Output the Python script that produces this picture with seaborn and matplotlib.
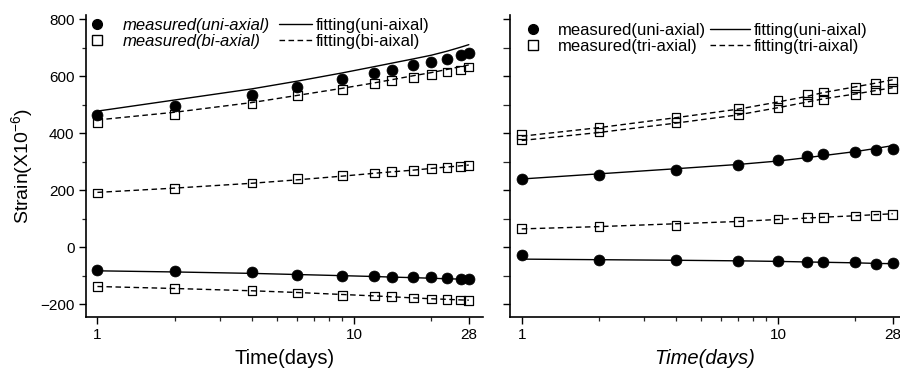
import numpy as np
import pandas as pd
import matplotlib
matplotlib.use("Agg")
import matplotlib.pyplot as plt
import seaborn as sns
from matplotlib.lines import Line2D
from matplotlib.ticker import FixedLocator, FixedFormatter, MultipleLocator, NullFormatter

# ---- data ----
# left panel (uni-axial vs bi-axial)
days_left = [1, 2, 4, 6, 9, 12, 14, 17, 20, 23, 26, 28]
uni_top_meas = [465, 497, 536, 563, 591, 612, 623, 641, 649, 662, 674, 682]
uni_top_fit = [478, 517, 556, 583, 612, 634, 646, 661, 674, 688, 702, 711]
bi_top_meas = [437, 467, 503, 532, 555, 575, 585, 595, 605, 615, 622, 633]
bi_top_fit = [447, 474, 508, 533, 558, 577, 588, 602, 613, 624, 634, 640]
bi_mid_meas = [191, 206, 226, 241, 252, 261, 265, 270, 277, 281, 284, 287]
bi_mid_fit = [193, 208, 225, 237, 250, 260, 265, 271, 277, 282, 286, 289]
uni_low_meas = [-80, -82, -87, -95, -100, -101, -102, -104, -105, -107, -110, -111]
uni_low_fit = [-82, -86, -91, -95, -99, -102, -104, -106, -108, -110, -111, -112]
bi_low_meas = [-137, -143, -152, -160, -168, -170, -173, -177, -181, -183, -184, -185]
bi_low_fit = [-137, -144, -152, -158, -165, -170, -173, -177, -180, -182, -184, -185]

# right panel (uni-axial vs tri-axial)
days_right = [1, 2, 4, 7, 10, 13, 15, 20, 24, 28]
tri_a_meas = [395, 421, 455, 487, 515, 537, 545, 562, 575, 582]
tri_a_fit = [390, 420, 455, 485, 510, 530, 543, 563, 576, 588]
tri_b_meas = [378, 405, 437, 466, 490, 512, 520, 537, 552, 557]
tri_b_fit = [375, 403, 436, 465, 490, 510, 521, 538, 550, 560]
uni_r_meas = [240, 255, 272, 290, 307, 320, 326, 335, 340, 345]
uni_r_fit = [240, 258, 276, 291, 303, 315, 322, 336, 347, 357]
tri_c_meas = [66, 74, 78, 90, 100, 104, 105, 110, 113, 116]
tri_c_fit = [65, 73, 83, 91, 98, 103, 106, 111, 115, 118]
uni_r2_meas = [-26, -43, -43, -46, -47, -51, -51, -51, -57, -55]
uni_r2_fit = [-41, -43, -45, -47, -49, -51, -52, -54, -56, -57]

xticks = [1, 10, 28]
yticks = [-200, 0, 200, 400, 600, 800]

sns.set_style("ticks")
plt.rcParams["font.family"] = ["Liberation Sans", "DejaVu Sans"]
plt.rcParams["mathtext.default"] = "regular"
plt.rcParams["text.color"] = "black"
plt.rcParams["axes.labelcolor"] = "black"

W, H = 900, 376
fig = plt.figure(figsize=(9, 3.76), dpi=100)
ax1 = fig.add_axes([85.7 / W, 58.7 / H, (483 - 85.7) / W, (317.3 - 15) / H])
ax2 = fig.add_axes([510 / W, 58.7 / H, 390 / W, (317.3 - 15) / H])

DASH = (4, 2.5)


def fit_line(ax, x, y, dashed):
    sns.lineplot(x=x, y=y, ax=ax, color="black", linewidth=1.0, legend=False)
    if dashed:
        ax.lines[-1].set_dashes(DASH)


def circles(ax, x, y):
    sns.scatterplot(x=x, y=y, ax=ax, marker="o", s=62, color="black",
                    edgecolor="black", linewidth=0.5, legend=False, zorder=3)


def squares(ax, x, y):
    sns.scatterplot(x=x, y=y, ax=ax, marker="s", s=40, facecolors="none",
                    edgecolor="black", linewidth=0.9, legend=False, zorder=3)


# left panel
fit_line(ax1, days_left, uni_top_fit, False)
fit_line(ax1, days_left, bi_top_fit, True)
fit_line(ax1, days_left, bi_mid_fit, True)
fit_line(ax1, days_left, uni_low_fit, False)
fit_line(ax1, days_left, bi_low_fit, True)
circles(ax1, days_left, uni_top_meas)
squares(ax1, days_left, bi_top_meas)
squares(ax1, days_left, bi_mid_meas)
circles(ax1, days_left, uni_low_meas)
squares(ax1, days_left, bi_low_meas)

# right panel
fit_line(ax2, days_right, tri_a_fit, True)
fit_line(ax2, days_right, tri_b_fit, True)
fit_line(ax2, days_right, uni_r_fit, False)
fit_line(ax2, days_right, tri_c_fit, True)
fit_line(ax2, days_right, uni_r2_fit, False)
squares(ax2, days_right, tri_a_meas)
squares(ax2, days_right, tri_b_meas)
circles(ax2, days_right, uni_r_meas)
squares(ax2, days_right, tri_c_meas)
circles(ax2, days_right, uni_r2_meas)

for ax, xmax in ((ax1, 31.8), (ax2, 29.9)):
    ax.set_xscale("log")
    ax.set_xlim(0.9, xmax)
    ax.set_ylim(-245, 815)
    ax.xaxis.set_major_locator(FixedLocator(xticks))
    ax.xaxis.set_major_formatter(FixedFormatter([str(t) for t in xticks]))
    ax.xaxis.set_minor_locator(FixedLocator([2, 3, 4, 5, 6, 7, 8, 9, 20]))
    ax.xaxis.set_minor_formatter(NullFormatter())
    ax.yaxis.set_major_locator(FixedLocator(yticks))
    ax.yaxis.set_minor_locator(MultipleLocator(100))
    ax.tick_params(which="major", direction="out", length=5, width=1.0,
                   labelsize=11, pad=3, colors="black")
    ax.tick_params(which="minor", direction="out", length=3, width=0.9)
    for s in ("left", "bottom"):
        ax.spines[s].set_linewidth(1.2)
        ax.spines[s].set_color("black")
    ax.set_xlabel("")
    ax.set_ylabel("")

sns.despine(fig=fig)
ax2.tick_params(axis="y", which="both", labelleft=False, length=5)

ax1.set_ylabel("Strain(X10$^{-6}$)", fontsize=14, labelpad=4)
ax1.set_xlabel("Time(days)", fontsize=14.5, labelpad=5)
ax2.set_xlabel("Time(days)", fontsize=14.5, labelpad=5, style="italic")

# legends
FS = 12
em = FS * 100 / 72.0


def legends(ax, labels, x_meas, x_fit, y_top, len_fit, italic):
    h_meas = [Line2D([], [], marker="o", ls="none", color="black", markersize=7),
              Line2D([], [], marker="s", ls="none", markerfacecolor="none",
                     markeredgecolor="black", markersize=6.5)]
    h_fit = [Line2D([], [], color="black", lw=1.0),
             Line2D([], [], color="black", lw=1.0, dashes=DASH)]
    leg1 = ax.legend(h_meas, labels[:2], loc="upper left", frameon=False,
                     bbox_to_anchor=(x_meas / W, 1 - y_top / H),
                     bbox_transform=fig.transFigure, fontsize=FS,
                     borderpad=0, borderaxespad=0, handlelength=1.0,
                     handletextpad=1.03, labelspacing=0.08)
    if italic:
        for t in leg1.get_texts():
            t.set_style("italic")
    ax.add_artist(leg1)
    ax.legend(h_fit, labels[2:], loc="upper left", frameon=False,
              bbox_to_anchor=(x_fit / W, 1 - y_top / H),
              bbox_transform=fig.transFigure, fontsize=FS,
              borderpad=0, borderaxespad=0, handlelength=len_fit / em,
              handletextpad=0.2, labelspacing=0.08)


legends(ax1, ["measured(uni-axial)", "measured(bi-axial)",
              "fitting(uni-aixal)", "fitting(bi-aixal)"],
        88.7, 279, 18, 33, True)
legends(ax2, ["measured(uni-axial)", "measured(tri-axial)",
              "fitting(uni-aixal)", "fitting(tri-aixal)"],
        524.4, 710, 23, 40, False)

fig.savefig("out.png", dpi=100)
